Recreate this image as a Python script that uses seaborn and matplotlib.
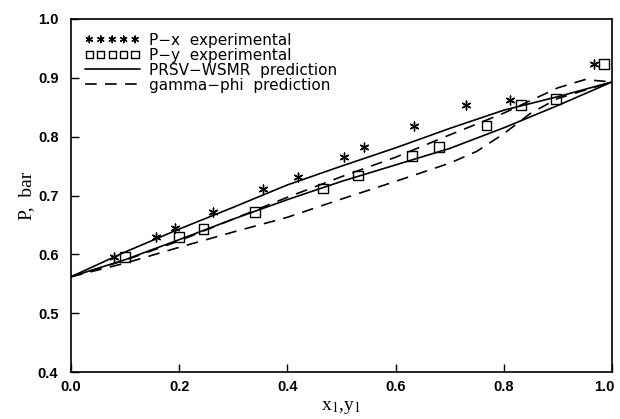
import numpy as np
import pandas as pd
from matplotlib import pyplot as plt
from matplotlib import transforms
import seaborn as sns

# experimental points
px_x = [0.080, 0.158, 0.192, 0.263, 0.355, 0.420, 0.505, 0.542, 0.634, 0.730, 0.811, 0.967]
px_P = [0.596, 0.629, 0.644, 0.672, 0.711, 0.732, 0.765, 0.782, 0.818, 0.854, 0.862, 0.924]
py_y = [0.100, 0.200, 0.245, 0.340, 0.466, 0.531, 0.631, 0.680, 0.768, 0.832, 0.896, 0.986]
py_P = [0.596, 0.629, 0.643, 0.672, 0.712, 0.734, 0.767, 0.783, 0.819, 0.854, 0.864, 0.924]

# model curves
grid = [0.0, 0.1, 0.2, 0.3, 0.4, 0.5, 0.6, 0.7, 0.8, 0.9, 1.0]
prsv_bubble = [0.562, 0.604, 0.643, 0.680, 0.718, 0.750, 0.781, 0.814, 0.845, 0.868, 0.893]
prsv_dew = [0.562, 0.591, 0.625, 0.660, 0.693, 0.724, 0.752, 0.780, 0.815, 0.853, 0.893]
gp_x = [0.0, 0.1, 0.2, 0.3, 0.4, 0.5, 0.6, 0.7, 0.8, 0.9, 0.95, 1.0]
gp_upper = [0.562, 0.590, 0.623, 0.660, 0.697, 0.732, 0.765, 0.803, 0.840, 0.883, 0.897, 0.893]
gp_lx = [0.0, 0.1, 0.2, 0.3, 0.4, 0.5, 0.6, 0.7, 0.75, 0.8, 0.85, 0.9, 1.0]
gp_lower = [0.562, 0.585, 0.612, 0.638, 0.663, 0.694, 0.724, 0.755, 0.775, 0.805, 0.840, 0.865, 0.893]

sns.set_style("ticks")
plt.rcParams["font.family"] = ["Liberation Sans", "DejaVu Sans"]
plt.rcParams["mathtext.fontset"] = "stix"
for k in ["text.color", "axes.labelcolor", "xtick.color", "ytick.color", "axes.edgecolor"]:
    plt.rcParams[k] = "black"

fig = plt.figure(figsize=(6.2, 4.19), dpi=100)
ax = fig.add_axes([0.1145, 0.112, 0.8725, 0.8427])

sns.scatterplot(x=px_x, y=px_P, marker=(6, 2, 0), s=40, color="black",
                linewidth=1.0, label="P\u2212x  experimental", ax=ax, zorder=3)
sns.scatterplot(x=py_y, y=py_P, marker="s", s=50, facecolor="none",
                edgecolor="black", linewidth=1.0, label="P\u2212y  experimental", ax=ax, zorder=3)
sns.lineplot(x=grid, y=prsv_bubble, color="black", lw=1.2, label="PRSV\u2212WSMR  prediction", ax=ax)
sns.lineplot(x=grid, y=prsv_dew, color="black", lw=1.2, ax=ax)
sns.lineplot(x=gp_x, y=gp_upper, color="black", lw=1.2, ax=ax,
             label="gamma\u2212phi  prediction").lines[-1].set_dashes((7, 5))
sns.lineplot(x=gp_lx, y=gp_lower, color="black", lw=1.2, ax=ax).lines[-1].set_dashes((7, 5))

ax.set_xlim(0, 1.0)
ax.set_ylim(0.4, 1.0)
ax.set_xticks([0.0, 0.2, 0.4, 0.6, 0.8, 1.0])
ax.set_yticks([0.4, 0.5, 0.6, 0.7, 0.8, 0.9, 1.0])
ax.tick_params(direction="in", length=6, width=1, labelsize=10.5)
ax.tick_params(axis="y", pad=9)
ax.tick_params(axis="x", pad=6)
for t in ax.get_xticklabels() + ax.get_yticklabels():
    t.set_fontweight("bold")
last = ax.get_xticklabels()[-1]
last.set_transform(last.get_transform() + transforms.ScaledTranslation(-0.08, 0, fig.dpi_scale_trans))
for s in ax.spines.values():
    s.set_linewidth(1.2)
    s.set_visible(True)

ax.set_xlabel(r"x$_1$,y$_1$", family="Liberation Serif", fontsize=14, labelpad=3)
ax.set_ylabel("P,  bar", family="Liberation Serif", fontsize=14, labelpad=2)

ax.legend(loc="upper left", frameon=False, scatterpoints=5, scatteryoffsets=[0.5],
          handlelength=3.6, handletextpad=0.6, labelspacing=0.0, markerscale=0.75,
          borderaxespad=0.5, prop={"family": "DejaVu Sans", "size": 11})

fig.savefig("out.png", dpi=100)
